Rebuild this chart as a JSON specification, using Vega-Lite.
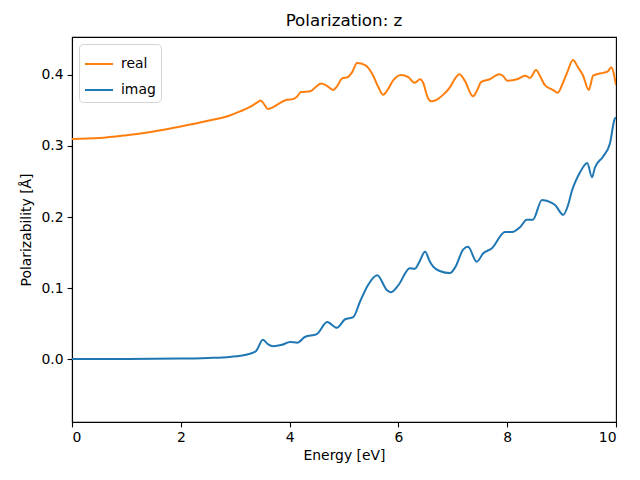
{
  "$schema": "https://vega.github.io/schema/vega-lite/v6.json",
  "width": 544,
  "height": 385,
  "autosize": "none",
  "padding": {"left": 72, "top": 37, "right": 24, "bottom": 58},
  "background": "white",
  "title": {"text": "Polarization: z", "font": "DejaVu Sans", "fontSize": 16.7, "fontWeight": "normal", "color": "black", "offset": 7},
  "config": {
    "view": {"stroke": "black", "strokeWidth": 1.1},
    "font": "DejaVu Sans",
    "axis": {"grid": false, "domainColor": "black", "domainWidth": 1.1, "tickColor": "black", "tickWidth": 1.1, "labelColor": "black", "titleColor": "black", "labelFont": "DejaVu Sans", "titleFont": "DejaVu Sans", "labelFontSize": 13.9, "titleFontSize": 13.9, "titleFontWeight": "normal", "tickSize": 4.9, "labelPadding": 4, "domain": true}
  },
  "data": {"values": [
    {"E": 0.0, "v": 0.310, "s": "real"},
    {"E": 0.5, "v": 0.3112, "s": "real"},
    {"E": 1.0, "v": 0.3152, "s": "real"},
    {"E": 1.5, "v": 0.3205, "s": "real"},
    {"E": 2.0, "v": 0.3275, "s": "real"},
    {"E": 2.5, "v": 0.3355, "s": "real"},
    {"E": 2.9, "v": 0.343, "s": "real"},
    {"E": 3.1, "v": 0.349, "s": "real"},
    {"E": 3.27, "v": 0.355, "s": "real"},
    {"E": 3.4, "v": 0.361, "s": "real"},
    {"E": 3.47, "v": 0.364, "s": "real"},
    {"E": 3.53, "v": 0.359, "s": "real"},
    {"E": 3.6, "v": 0.352, "s": "real"},
    {"E": 3.68, "v": 0.354, "s": "real"},
    {"E": 3.79, "v": 0.359, "s": "real"},
    {"E": 3.95, "v": 0.365, "s": "real"},
    {"E": 4.06, "v": 0.366, "s": "real"},
    {"E": 4.13, "v": 0.369, "s": "real"},
    {"E": 4.21, "v": 0.376, "s": "real"},
    {"E": 4.38, "v": 0.377, "s": "real"},
    {"E": 4.48, "v": 0.383, "s": "real"},
    {"E": 4.58, "v": 0.388, "s": "real"},
    {"E": 4.68, "v": 0.385, "s": "real"},
    {"E": 4.8, "v": 0.379, "s": "real"},
    {"E": 4.88, "v": 0.385, "s": "real"},
    {"E": 4.96, "v": 0.395, "s": "real"},
    {"E": 5.07, "v": 0.397, "s": "real"},
    {"E": 5.15, "v": 0.404, "s": "real"},
    {"E": 5.24, "v": 0.417, "s": "real"},
    {"E": 5.39, "v": 0.414, "s": "real"},
    {"E": 5.53, "v": 0.400, "s": "real"},
    {"E": 5.63, "v": 0.383, "s": "real"},
    {"E": 5.72, "v": 0.372, "s": "real"},
    {"E": 5.8, "v": 0.379, "s": "real"},
    {"E": 5.9, "v": 0.392, "s": "real"},
    {"E": 6.05, "v": 0.400, "s": "real"},
    {"E": 6.18, "v": 0.397, "s": "real"},
    {"E": 6.3, "v": 0.389, "s": "real"},
    {"E": 6.4, "v": 0.394, "s": "real"},
    {"E": 6.46, "v": 0.388, "s": "real"},
    {"E": 6.53, "v": 0.370, "s": "real"},
    {"E": 6.6, "v": 0.363, "s": "real"},
    {"E": 6.7, "v": 0.365, "s": "real"},
    {"E": 6.82, "v": 0.372, "s": "real"},
    {"E": 6.95, "v": 0.383, "s": "real"},
    {"E": 7.05, "v": 0.396, "s": "real"},
    {"E": 7.12, "v": 0.401, "s": "real"},
    {"E": 7.22, "v": 0.392, "s": "real"},
    {"E": 7.37, "v": 0.370, "s": "real"},
    {"E": 7.45, "v": 0.379, "s": "real"},
    {"E": 7.52, "v": 0.390, "s": "real"},
    {"E": 7.68, "v": 0.394, "s": "real"},
    {"E": 7.85, "v": 0.401, "s": "real"},
    {"E": 7.92, "v": 0.399, "s": "real"},
    {"E": 8.0, "v": 0.392, "s": "real"},
    {"E": 8.18, "v": 0.394, "s": "real"},
    {"E": 8.33, "v": 0.399, "s": "real"},
    {"E": 8.42, "v": 0.396, "s": "real"},
    {"E": 8.53, "v": 0.407, "s": "real"},
    {"E": 8.6, "v": 0.399, "s": "real"},
    {"E": 8.69, "v": 0.386, "s": "real"},
    {"E": 8.84, "v": 0.379, "s": "real"},
    {"E": 8.93, "v": 0.375, "s": "real"},
    {"E": 9.02, "v": 0.388, "s": "real"},
    {"E": 9.1, "v": 0.403, "s": "real"},
    {"E": 9.21, "v": 0.421, "s": "real"},
    {"E": 9.3, "v": 0.411, "s": "real"},
    {"E": 9.39, "v": 0.400, "s": "real"},
    {"E": 9.5, "v": 0.379, "s": "real"},
    {"E": 9.58, "v": 0.399, "s": "real"},
    {"E": 9.76, "v": 0.403, "s": "real"},
    {"E": 9.85, "v": 0.405, "s": "real"},
    {"E": 9.91, "v": 0.411, "s": "real"},
    {"E": 10.0, "v": 0.386, "s": "real"},

    {"E": 0.0, "v": 0.0, "s": "imag"},
    {"E": 1.0, "v": 0.0002, "s": "imag"},
    {"E": 2.0, "v": 0.0006, "s": "imag"},
    {"E": 2.5, "v": 0.0015, "s": "imag"},
    {"E": 2.9, "v": 0.003, "s": "imag"},
    {"E": 3.2, "v": 0.006, "s": "imag"},
    {"E": 3.38, "v": 0.011, "s": "imag"},
    {"E": 3.51, "v": 0.027, "s": "imag"},
    {"E": 3.6, "v": 0.021, "s": "imag"},
    {"E": 3.7, "v": 0.018, "s": "imag"},
    {"E": 3.86, "v": 0.020, "s": "imag"},
    {"E": 4.01, "v": 0.024, "s": "imag"},
    {"E": 4.14, "v": 0.023, "s": "imag"},
    {"E": 4.28, "v": 0.031, "s": "imag"},
    {"E": 4.5, "v": 0.035, "s": "imag"},
    {"E": 4.69, "v": 0.052, "s": "imag"},
    {"E": 4.87, "v": 0.044, "s": "imag"},
    {"E": 5.02, "v": 0.056, "s": "imag"},
    {"E": 5.17, "v": 0.059, "s": "imag"},
    {"E": 5.29, "v": 0.080, "s": "imag"},
    {"E": 5.44, "v": 0.104, "s": "imag"},
    {"E": 5.61, "v": 0.118, "s": "imag"},
    {"E": 5.79, "v": 0.097, "s": "imag"},
    {"E": 5.86, "v": 0.094, "s": "imag"},
    {"E": 6.0, "v": 0.104, "s": "imag"},
    {"E": 6.21, "v": 0.128, "s": "imag"},
    {"E": 6.3, "v": 0.127, "s": "imag"},
    {"E": 6.38, "v": 0.136, "s": "imag"},
    {"E": 6.49, "v": 0.151, "s": "imag"},
    {"E": 6.58, "v": 0.137, "s": "imag"},
    {"E": 6.64, "v": 0.130, "s": "imag"},
    {"E": 6.76, "v": 0.124, "s": "imag"},
    {"E": 6.95, "v": 0.121, "s": "imag"},
    {"E": 7.05, "v": 0.130, "s": "imag"},
    {"E": 7.19, "v": 0.154, "s": "imag"},
    {"E": 7.28, "v": 0.158, "s": "imag"},
    {"E": 7.44, "v": 0.137, "s": "imag"},
    {"E": 7.56, "v": 0.149, "s": "imag"},
    {"E": 7.72, "v": 0.156, "s": "imag"},
    {"E": 7.96, "v": 0.179, "s": "imag"},
    {"E": 8.09, "v": 0.179, "s": "imag"},
    {"E": 8.24, "v": 0.186, "s": "imag"},
    {"E": 8.36, "v": 0.196, "s": "imag"},
    {"E": 8.47, "v": 0.196, "s": "imag"},
    {"E": 8.64, "v": 0.224, "s": "imag"},
    {"E": 8.82, "v": 0.220, "s": "imag"},
    {"E": 8.88, "v": 0.217, "s": "imag"},
    {"E": 9.03, "v": 0.203, "s": "imag"},
    {"E": 9.12, "v": 0.217, "s": "imag"},
    {"E": 9.19, "v": 0.237, "s": "imag"},
    {"E": 9.25, "v": 0.249, "s": "imag"},
    {"E": 9.34, "v": 0.263, "s": "imag"},
    {"E": 9.47, "v": 0.276, "s": "imag"},
    {"E": 9.56, "v": 0.256, "s": "imag"},
    {"E": 9.61, "v": 0.269, "s": "imag"},
    {"E": 9.76, "v": 0.285, "s": "imag"},
    {"E": 9.89, "v": 0.304, "s": "imag"},
    {"E": 9.98, "v": 0.339, "s": "imag"},
    {"E": 10.0, "v": 0.340, "s": "imag"}
  ]},
  "mark": {"type": "line", "strokeWidth": 2, "interpolate": "monotone", "clip": true},
  "encoding": {
    "x": {"field": "E", "type": "quantitative", "title": "Energy [eV]", "scale": {"domain": [0, 10], "nice": false, "zero": false}, "axis": {"values": [0, 2, 4, 6, 8, 10], "format": "d", "titlePadding": 4}},
    "y": {"field": "v", "type": "quantitative", "title": "Polarizability [Å]", "scale": {"domain": [-0.0887, 0.4535], "nice": false, "zero": false}, "axis": {"values": [0, 0.1, 0.2, 0.3, 0.4], "format": ".1f", "titlePadding": 8}},
    "color": {"field": "s", "type": "nominal", "scale": {"domain": ["real", "imag"], "range": ["#ff7f0e", "#1f77b4"]},
      "legend": {"title": null, "orient": "none", "legendX": 7, "legendY": 7, "symbolType": "stroke", "symbolSize": 784, "symbolStrokeWidth": 2, "labelFontSize": 13.9, "labelFont": "DejaVu Sans", "labelColor": "black", "strokeColor": "#d5d5d5", "cornerRadius": 4, "fillColor": "white", "padding": 5, "rowPadding": 4, "labelOffset": 7}}
  }
}
